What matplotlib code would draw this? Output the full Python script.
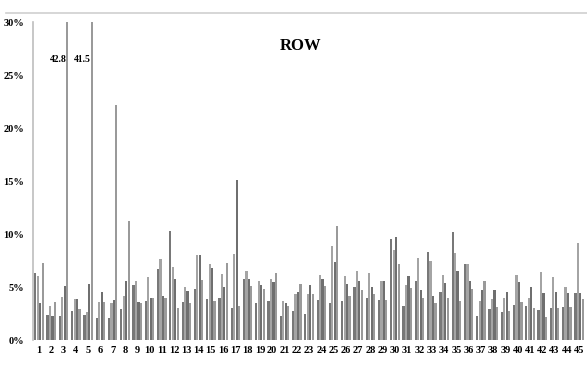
import matplotlib
matplotlib.use("Agg")
import matplotlib.pyplot as plt
import numpy as np

# skupiny 1..45
groups = list(range(1, 46))

# styri serie (odhad z obrazku, v %)
s1 = [6.3, 2.4, 2.3, 2.7, 2.4, 2.1, 2.1, 2.9, 5.2, 3.7, 6.7, 10.3, 3.6, 4.8, 3.9,
      4.0, 3.0, 5.8, 3.5, 3.7, 2.3, 2.7, 2.5, 3.8, 3.5, 3.7, 5.0, 4.0, 3.8, 9.5,
      3.2, 5.6, 8.3, 4.5, 10.2, 7.2, 2.3, 2.9, 2.6, 3.3, 3.2, 2.8, 3.0, 3.1, 4.4]
s2 = [6.0, 3.2, 4.1, 3.9, 2.6, 3.6, 3.5, 4.2, 5.6, 5.9, 7.6, 6.9, 5.0, 8.0, 7.2,
      6.2, 8.1, 6.5, 5.6, 5.8, 3.7, 4.3, 4.3, 6.1, 8.9, 6.0, 6.5, 6.3, 5.6, 8.5,
      5.2, 7.7, 7.5, 6.1, 8.2, 7.2, 3.7, 3.9, 4.0, 6.1, 4.0, 6.4, 5.9, 5.0, 9.2]
s3 = [3.5, 2.3, 5.1, 3.9, 5.3, 4.5, 3.8, 5.6, 3.6, 4.0, 4.2, 5.8, 4.6, 8.0, 6.8,
      5.0, 15.1, 5.8, 5.2, 5.5, 3.5, 4.5, 5.2, 5.8, 7.4, 5.3, 5.6, 5.0, 5.6, 9.7,
      6.0, 4.7, 4.2, 5.4, 6.5, 5.6, 4.7, 4.7, 4.5, 5.5, 5.0, 4.4, 4.5, 4.4, 4.4]
s4 = [7.3, 3.6, 42.8, 2.9, 41.5, 3.6, 22.2, 11.2, 3.5, 4.0, 4.0, 3.0, 3.5, 5.7, 3.7,
      7.3, 3.2, 5.1, 4.8, 6.3, 3.2, 5.3, 4.3, 5.1, 10.8, 4.2, 4.7, 4.3, 3.8, 7.2,
      4.9, 4.0, 3.5, 4.0, 3.7, 4.8, 5.6, 3.1, 2.7, 3.6, 3.0, 2.2, 3.0, 3.1, 3.9]

serie = [s1, s2, s3, s4]
farby = ["#787878", "#a4a4a4", "#6f6f6f", "#9a9a9a"]
posuny = [-0.3, -0.1, 0.1, 0.3]

fig = plt.figure(figsize=(5.87, 3.70), dpi=100)
ax = fig.add_axes([0.056, 0.081, 0.941, 0.8595])

x = np.array(groups)
for s, c, p in zip(serie, farby, posuny):
    ax.bar(x + p, s, width=0.18, color=c, linewidth=0)

ax.set_xlim(0.5, 45.5)
ax.set_ylim(0, 30)

# popisky prerusenych stlpcov
for i, s in enumerate(serie):
    for g, v in zip(groups, s):
        if v > 30:
            ax.text(g + posuny[i] - 0.05, 26.5, f"{v}", ha="right", va="center",
                    fontsize=7, fontweight="bold", family="Liberation Serif")

ax.text(22.3, 27.7, "ROW", ha="center", va="center", fontsize=12,
        fontweight="bold", family="Liberation Serif")

ax.set_yticks([0, 5, 10, 15, 20, 25, 30])
ax.set_yticklabels([f"{v}%" for v in [0, 5, 10, 15, 20, 25, 30]],
                   fontsize=7.5, fontweight="bold", family="Liberation Serif")
ax.set_xticks(groups)
ax.set_xticklabels([str(g) for g in groups], fontsize=7.5, fontweight="bold",
                   family="Liberation Serif")
ax.tick_params(length=0, pad=4)
ax.tick_params(axis="y", pad=6)

for sp in ["top", "right", "bottom"]:
    ax.spines[sp].set_visible(False)
ax.spines["left"].set_color("#bdbdbd")
ax.spines["left"].set_linewidth(1.2)

# horna linka cez cely obrazok
fig.add_artist(plt.Line2D([0.01, 1.0], [0.965, 0.965], color="#cfcfcf", lw=1.2))

fig.savefig("out.png", dpi=100, facecolor="white")
